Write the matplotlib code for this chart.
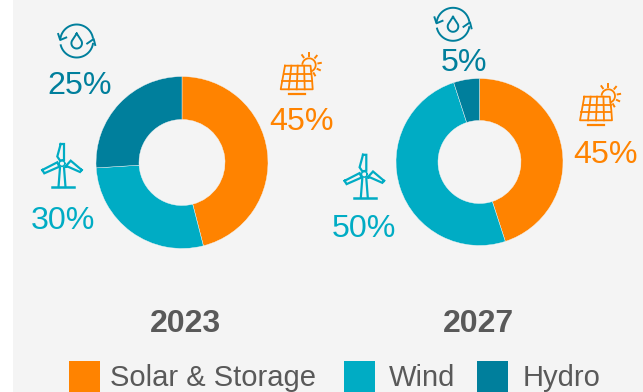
import numpy as np
import matplotlib
matplotlib.use('Agg')
import matplotlib.pyplot as plt
from matplotlib.patches import Rectangle

plt.rcParams['font.family'] = ['Liberation Sans', 'DejaVu Sans']

years = ['2023', '2027']
categories = ['Solar & Storage', 'Wind', 'Hydro']
share_2023 = [46, 28, 26]
share_2027 = [45, 50, 5]
labels_2023 = ['45%', '30%', '25%']
labels_2027 = ['45%', '50%', '5%']

ORANGE = '#FF8300'
TEAL = '#00ACC4'
BLUE = '#007F9C'
BG = '#F4F4F4'
GREY = '#595959'
colors = [ORANGE, TEAL, BLUE]

W, H = 643, 392
fig = plt.figure(figsize=(W / 100, H / 100), dpi=100, facecolor='white')

# overlay in pixel coords for background, text and icons
ax = fig.add_axes([0, 0, 1, 1], zorder=1)
ax.set_xlim(0, W)
ax.set_ylim(H, 0)
ax.axis('off')
ax.patch.set_alpha(0)
ax.add_patch(Rectangle((13, 0), W - 13, H, fc=BG, ec='none', zorder=0))


def donut(vals, cx, cy, r, r_in):
    a = fig.add_axes([(cx - r) / W, 1 - (cy + r) / H, 2 * r / W, 2 * r / H], zorder=2)
    a.pie(vals, colors=colors, startangle=90, counterclock=False, radius=1,
          wedgeprops=dict(width=1 - r_in / r, edgecolor=BG, linewidth=0.3))
    a.set_xlim(-1, 1)
    a.set_ylim(-1, 1)
    a.axis('off')


donut(share_2023, 182, 162.5, 86, 43)
donut(share_2027, 479.5, 162, 83.5, 41.5)


def wind_icon(cx, cy, c=TEAL, lw=1.6):
    blades = [
        [(-1.3, -19.5), (2, -19.5), (2, -3.5), (-2, -3), (-4.7, -7), (-1.3, -19.5)],
        [(-19.7, 6.5), (-17.7, 9.8), (-2.7, 3.2), (-4.7, -1.2), (-19.7, 6.5)],
        [(19.7, 6.5), (18, 8.5), (6, 3.2), (3, 3.5), (8.7, -2.8), (19.7, 6.5)],
    ]
    for b in blades:
        b = np.array(b)
        ax.plot(cx + b[:, 0], cy + b[:, 1], color=c, lw=lw, solid_joinstyle='miter')
    ax.plot(cx + np.array([-2, -3.5]), cy + np.array([4, 23.5]), color=c, lw=lw)
    ax.plot(cx + np.array([2, 3.5]), cy + np.array([4, 23.5]), color=c, lw=lw)
    ax.plot(cx + np.array([-10.5, 11.5]), cy + np.array([23.5, 23.5]), color=c, lw=1.8)
    t = np.linspace(0, 2 * np.pi, 30)
    ax.plot(cx + 2.8 * np.cos(t), cy + 2.8 * np.sin(t), color=c, lw=1.1)


def hydro_icon(cx, cy, c=BLUE, lw=1.4):
    r = 16.5
    for a0, a1 in [(-172, -12), (10, 165)]:
        t = np.radians(np.linspace(a0, a1, 40))
        ax.plot(cx + r * np.cos(t), cy + r * np.sin(t), color=c, lw=lw)
    # arrow heads
    ax.plot(cx + np.array([-18.5, -16.5, -10.5]), cy + np.array([-7, -1, -3.5]), color=c, lw=lw)
    ax.plot(cx + np.array([18.5, 17, 10.5]), cy + np.array([4, -2, 2.5]), color=c, lw=lw)
    # drop
    t = np.radians(np.linspace(-35, 215, 40))
    x = 5.3 * np.cos(t)
    y = 2.2 + 5.3 * np.sin(t)
    ax.plot(cx + np.r_[0, x, 0], cy + np.r_[-7.5, y, -7.5], color=c, lw=lw)


def solar_icon(sx, sy, c=ORANGE, lw=1.3):
    # sx, sy is the sun centre
    t = np.radians(np.linspace(-170, 70, 40))
    ax.plot(sx + 6.7 * np.cos(t), sy + 6.7 * np.sin(t), color=c, lw=lw)
    for deg in [-125, -90, -50, -10, 25, 60]:
        d = np.radians(deg)
        ax.plot(sx + np.array([9.5, 12]) * np.cos(d), sy + np.array([9.5, 12]) * np.sin(d),
                color=c, lw=1.4)
    tl, tr, br, bl = (-24, 0.7), (1.5, 0.7), (3.7, 24.3), (-28.3, 24.3)
    pts = np.array([tl, tr, (3, 14), br, bl, tl])
    ax.plot(sx + pts[:, 0], sy + pts[:, 1], color=c, lw=lw)
    for f in [1 / 3, 2 / 3]:
        ax.plot(sx + np.array([tl[0] + f * (bl[0] - tl[0]), tr[0] + f * (br[0] - tr[0])]),
                sy + np.array([tl[1] + f * 23.6] * 2), color=c, lw=lw)
    for f in [0.25, 0.5, 0.75]:
        ax.plot(sx + np.array([tl[0] + f * (tr[0] - tl[0]), bl[0] + f * (br[0] - bl[0])]),
                sy + np.array([tl[1], bl[1]]), color=c, lw=lw)
    ax.plot(sx + np.array([-20, -4]), sy + np.array([28.7, 28.7]), color=c, lw=1.6)


wind_icon(62, 163.5)
wind_icon(364.3, 174.3)
hydro_icon(76.7, 41)
hydro_icon(453, 24.3)
solar_icon(309, 65)
solar_icon(608.3, 96)

# percentage labels
pct_pos_2023 = [(301, 118.5), (63, 217.5), (80, 82.5)]
pct_pos_2027 = [(605, 151.5), (364, 225.5), (464, 59.5)]
for labs, pos in [(labels_2023, pct_pos_2023), (labels_2027, pct_pos_2027)]:
    for lab, (x, y), col in zip(labs, pos, colors):
        ax.text(x, y, lab, color=col, fontsize=23.2, ha='center', va='center_baseline')

for yr, x in zip(years, [185, 478]):
    ax.text(x, 320.5, yr, color=GREY, fontsize=23, fontweight='bold', ha='center', va='center_baseline')

# legend
leg_box_x = [69, 344, 477]
leg_text_x = [110, 389, 523]
for name, bx, tx, col in zip(categories, leg_box_x, leg_text_x, colors):
    ax.add_patch(Rectangle((bx, 361), 31, 31, fc=col, ec='none'))
    ax.text(tx, 375, name, color=GREY, fontsize=21, ha='left', va='center_baseline')

fig.savefig('out.png', dpi=100, facecolor='white')
